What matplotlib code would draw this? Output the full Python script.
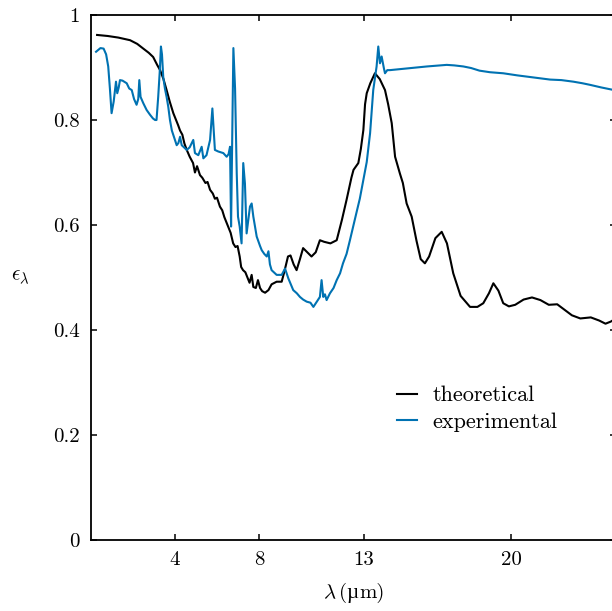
import matplotlib
matplotlib.use("Agg")
import matplotlib.pyplot as plt
from matplotlib.offsetbox import TextArea, HPacker, AnchoredOffsetbox

plt.rcParams['font.family'] = ['cmr10', 'DejaVu Serif']
plt.rcParams['mathtext.fontset'] = 'cm'
plt.rcParams['axes.formatter.use_mathtext'] = True

# theoretical emissivity (black)
theo_x = [0.29, 0.8, 1.3, 1.86, 2.2, 2.49, 2.75, 2.96, 3.15, 3.29, 3.45, 3.6, 3.75, 3.92,
          4.05, 4.15, 4.24, 4.35, 4.45, 4.56, 4.7, 4.86, 4.95, 5.05, 5.19, 5.3, 5.45, 5.55,
          5.67, 5.8, 5.9, 6.0, 6.14, 6.25, 6.35, 6.46, 6.55, 6.65, 6.77, 6.88, 6.98, 7.08,
          7.15, 7.24, 7.35, 7.45, 7.55, 7.65, 7.73, 7.85, 7.95, 8.05, 8.15, 8.29, 8.45, 8.6,
          8.84, 9.08, 9.2, 9.38, 9.5, 9.65, 9.79, 9.95, 10.1, 10.3, 10.5, 10.7, 10.9, 11.1,
          11.4, 11.7, 11.95, 12.17, 12.4, 12.5, 12.73, 12.85, 12.97, 13.05, 13.13, 13.3,
          13.52, 13.75, 14.0, 14.15, 14.32, 14.48, 14.71, 14.85, 15.03, 15.27, 15.5, 15.7,
          15.9, 16.1, 16.4, 16.7, 16.95, 17.25, 17.6, 18.05, 18.4, 18.68, 18.95, 19.16, 19.4,
          19.63, 19.9, 20.2, 20.6, 21.0, 21.4, 21.8, 22.2, 22.5, 22.9, 23.3, 23.8, 24.2,
          24.5, 24.75, 25.0]
theo_y = [0.962, 0.960, 0.957, 0.952, 0.945, 0.936, 0.928, 0.920, 0.905, 0.895, 0.878, 0.857,
          0.835, 0.813, 0.800, 0.790, 0.780, 0.772, 0.755, 0.743, 0.730, 0.718, 0.700, 0.712,
          0.695, 0.690, 0.680, 0.682, 0.667, 0.660, 0.650, 0.652, 0.635, 0.628, 0.615, 0.604,
          0.595, 0.585, 0.565, 0.558, 0.560, 0.540, 0.520, 0.514, 0.510, 0.500, 0.490, 0.505,
          0.482, 0.480, 0.495, 0.480, 0.474, 0.471, 0.476, 0.487, 0.492, 0.492, 0.510, 0.540,
          0.542, 0.525, 0.514, 0.535, 0.556, 0.548, 0.540, 0.548, 0.571, 0.568, 0.565, 0.571,
          0.610, 0.648, 0.690, 0.705, 0.718, 0.745, 0.781, 0.830, 0.851, 0.870, 0.889, 0.878,
          0.857, 0.830, 0.794, 0.730, 0.698, 0.680, 0.641, 0.616, 0.570, 0.535, 0.527, 0.540,
          0.575, 0.587, 0.565, 0.508, 0.465, 0.444, 0.444, 0.451, 0.470, 0.489, 0.475, 0.451,
          0.445, 0.448, 0.458, 0.462, 0.457, 0.448, 0.449, 0.440, 0.428, 0.422, 0.424, 0.418,
          0.412, 0.416, 0.422]

# experimental emissivity (blue)
exp_x = [0.24, 0.45, 0.6, 0.72, 0.82, 0.9, 0.98, 1.08, 1.19, 1.25, 1.32, 1.38, 1.5, 1.7,
         1.82, 1.94, 2.05, 2.17, 2.25, 2.3, 2.36, 2.49, 2.65, 2.81, 2.95, 3.05, 3.12, 3.2,
         3.27, 3.33, 3.38, 3.44, 3.52, 3.6, 3.68, 3.76, 3.85, 4.0, 4.08, 4.16, 4.24, 4.32,
         4.4, 4.56, 4.7, 4.87, 4.95, 5.11, 5.27, 5.35, 5.5, 5.67, 5.78, 5.9, 6.06, 6.3, 6.46,
         6.55, 6.62, 6.67, 6.72, 6.78, 6.86, 6.94, 7.0, 7.08, 7.17, 7.25, 7.33, 7.41, 7.49,
         7.57, 7.65, 7.73, 7.89, 8.05, 8.13, 8.25, 8.37, 8.45, 8.52, 8.6, 8.84, 9.08, 9.24,
         9.4, 9.63, 9.8, 9.95, 10.1, 10.27, 10.45, 10.59, 10.75, 10.9, 10.98, 11.06, 11.14,
         11.22, 11.38, 11.55, 11.7, 11.86, 12.0, 12.17, 12.33, 12.5, 12.65, 12.8, 12.97,
         13.13, 13.29, 13.44, 13.6, 13.68, 13.76, 13.84, 13.95, 14.0, 14.11, 14.24, 15.0,
         16.0, 16.94, 17.3, 17.73, 18.1, 18.5, 19.0, 19.63, 20.3, 20.9, 21.5, 21.86, 22.4,
         22.97, 23.4, 23.76, 24.3, 24.8, 25.0]
exp_y = [0.930, 0.937, 0.936, 0.925, 0.902, 0.860, 0.813, 0.835, 0.873, 0.851, 0.862, 0.876,
         0.875, 0.870, 0.860, 0.857, 0.840, 0.829, 0.840, 0.876, 0.844, 0.832, 0.819, 0.810,
         0.803, 0.800, 0.800, 0.844, 0.890, 0.940, 0.925, 0.882, 0.860, 0.844, 0.825, 0.800,
         0.780, 0.762, 0.752, 0.756, 0.768, 0.752, 0.749, 0.743, 0.748, 0.762, 0.737, 0.733,
         0.749, 0.727, 0.733, 0.762, 0.822, 0.743, 0.740, 0.737, 0.730, 0.735, 0.749, 0.597,
         0.750, 0.937, 0.860, 0.698, 0.616, 0.597, 0.565, 0.718, 0.679, 0.584, 0.610, 0.635,
         0.641, 0.616, 0.578, 0.560, 0.552, 0.545, 0.540, 0.550, 0.525, 0.514, 0.505, 0.505,
         0.517, 0.498, 0.476, 0.470, 0.463, 0.458, 0.454, 0.452, 0.444, 0.454, 0.463, 0.495,
         0.463, 0.468, 0.457, 0.470, 0.480, 0.495, 0.508, 0.527, 0.545, 0.571, 0.600, 0.625,
         0.650, 0.686, 0.720, 0.775, 0.857, 0.902, 0.940, 0.908, 0.921, 0.898, 0.889, 0.895,
         0.895, 0.898, 0.902, 0.905, 0.904, 0.902, 0.899, 0.894, 0.891, 0.889, 0.885, 0.882,
         0.879, 0.877, 0.876, 0.873, 0.870, 0.867, 0.862, 0.858, 0.856]

xticks = [4, 8, 13, 20]
yticks = [0, 0.2, 0.4, 0.6, 0.8, 1]
ytick_labels = ['0', '0.2', '0.4', '0.6', '0.8', '1']

fs = 15

fig = plt.figure(figsize=(6.12, 6.11), dpi=100)
ax = fig.add_axes([91/612, 71/611, 525/612, 525/611])

ax.plot(theo_x, theo_y, color='black', lw=1.5, label='theoretical')
ax.plot(exp_x, exp_y, color='#0072B2', lw=1.5, label='experimental')

ax.set_xlim(0, 25)
ax.set_ylim(0, 1)
ax.set_xticks(xticks)
ax.set_xticklabels([str(t) for t in xticks])
ax.set_yticks(yticks)
ax.set_yticklabels(ytick_labels)
ax.tick_params(direction='in', top=True, right=True, length=4, width=1.1,
               labelsize=fs, pad=8)
for s in ax.spines.values():
    s.set_linewidth(1.3)

# x label pieced together: cmr10 has no usable micro sign
lab = HPacker(children=[TextArea(r'$\lambda\,$(', textprops=dict(fontsize=fs)),
                        TextArea('µ', textprops=dict(fontsize=fs, family='Liberation Serif')),
                        TextArea('m)', textprops=dict(fontsize=fs))],
              align='baseline', pad=0, sep=0)
ax.add_artist(AnchoredOffsetbox(loc='center', child=lab, bbox_to_anchor=(0.5, -0.1),
                                bbox_transform=ax.transAxes, frameon=False,
                                pad=0, borderpad=0))

ax.set_ylabel(r'$\epsilon_\lambda$', fontsize=fs, rotation=0, va='center', ha='center')
ax.yaxis.set_label_coords(-0.135, 0.5)

ax.legend(loc='center left', bbox_to_anchor=(0.583, 0.25), frameon=False, fontsize=16,
          handlelength=0.9, handletextpad=0.68, labelspacing=0.3,
          borderpad=0, borderaxespad=0)

fig.savefig('out.png', dpi=100)
